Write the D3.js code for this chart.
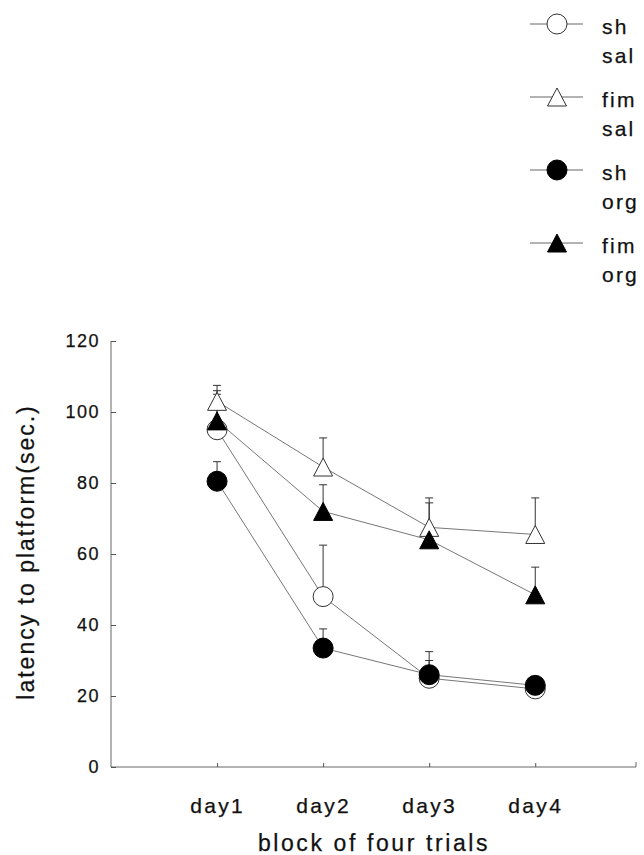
<!DOCTYPE html>
<html>
<head>
<meta charset="utf-8">
<script src="https://cdn.jsdelivr.net/npm/d3@7/dist/d3.min.js"></script>
<style>
  html, body { margin: 0; padding: 0; background: #fff; }
  svg { display: block; }
  text { font-family: "Liberation Sans", Arial, Helvetica, sans-serif; fill: #111; stroke: #111; stroke-width: 0.25; }
</style>
</head>
<body>
<svg id="chart" width="644" height="855"></svg>
<script>
// Escape latency over four training days, by lesion and treatment group
const days = ["day1", "day2", "day3", "day4"];
const dayIndex = [1, 2, 3, 4];

const shSal  = [95, 48, 25, 22];
const fimSal = [103, 84.5, 67.5, 65.5];
const shOrg  = [80.5, 33.5, 26, 23];
const fimOrg = [97.5, 72, 64, 48.5];

// upper error bars (SEM)
const shSalErr  = [10, 14.5, 5, 2];
const fimSalErr = [4.5, 8.2, 8.3, 10.3];
const shOrgErr  = [5.5, 5.4, 6.5, 1.5];
const fimOrgErr = [8.5, 7.5, 10.4, 7.8];

const yTicks = [0, 20, 40, 60, 80, 100, 120];
const groupNames = [["sh", "sal"], ["fim", "sal"], ["sh", "org"], ["fim", "org"]];

const series = [
  { name: groupNames[0], values: shSal,  err: shSalErr,  shape: "circle",   filled: false },
  { name: groupNames[1], values: fimSal, err: fimSalErr, shape: "triangle", filled: false },
  { name: groupNames[2], values: shOrg,  err: shOrgErr,  shape: "circle",   filled: true },
  { name: groupNames[3], values: fimOrg, err: fimOrgErr, shape: "triangle", filled: true }
];

const svg = d3.select("#chart");

const x = d3.scaleLinear().domain([0, 4.95]).range([111, 636]);
const y = d3.scaleLinear().domain([0, 120]).range([767, 341]);

const circleSym = d3.symbol().type(d3.symbolCircle).size(Math.PI * 10 * 10);
// triangle with its mid-height on the data point
function trianglePath(w, h) {
  return `M0,${-h / 2}L${w / 2},${h / 2}L${-w / 2},${h / 2}Z`;
}
function markerPath(shape) {
  return shape === "circle" ? circleSym() : trianglePath(19, 18);
}

// axes
const yAxis = d3.axisLeft(y).tickValues(yTicks).tickSize(-5).tickPadding(11).tickFormat(d3.format("d"));
const gy = svg.append("g").attr("transform", `translate(${x(0)},0)`).call(yAxis);
gy.select(".domain").attr("stroke", "#555").attr("stroke-width", 0.9).attr("d", `M0,${y(120)}V${y(0)}`);
gy.selectAll(".tick line").attr("stroke", "#555");
gy.selectAll(".tick text").attr("font-size", 18).attr("letter-spacing", 1.5).attr("fill", "#111")
  .style("font-family", '"Liberation Sans", Arial, sans-serif');

const xAxis = d3.axisBottom(x).tickValues(dayIndex).tickSize(-4).tickPadding(31)
  .tickFormat((d, i) => days[i]);
const gx = svg.append("g").attr("transform", `translate(0,${y(0)})`).call(xAxis);
gx.select(".domain").attr("stroke", "#555").attr("stroke-width", 0.9)
  .attr("d", `M${x(0)},0H${x(4.95)}V-5`);
gx.selectAll(".tick line").attr("stroke", "#555");
gx.selectAll(".tick text").attr("font-size", 21).attr("letter-spacing", 2.3).attr("fill", "#111")
  .style("font-family", '"Liberation Sans", Arial, sans-serif');

// axis titles
svg.append("text")
  .attr("transform", `translate(34,552) rotate(-90)`)
  .attr("text-anchor", "middle")
  .attr("font-size", 23)
  .attr("letter-spacing", 2)
  .text("latency to platform(sec.)");

svg.append("text")
  .attr("x", 374).attr("y", 851)
  .attr("text-anchor", "middle")
  .attr("font-size", 23)
  .attr("letter-spacing", 2.6)
  .text("block of four trials");

// connecting lines
const line = d3.line().x((d, i) => x(dayIndex[i])).y(d => y(d));
const plot = svg.append("g");
series.forEach(s => {
  plot.append("path")
    .attr("d", line(s.values))
    .attr("fill", "none")
    .attr("stroke", "#777")
    .attr("stroke-width", 1);
});

// error bars (upward only)
series.forEach(s => {
  const g = plot.append("g").attr("stroke", "#333").attr("stroke-width", 1);
  s.values.forEach((v, i) => {
    const cx = x(dayIndex[i]);
    const top = y(v + s.err[i]);
    g.append("line").attr("x1", cx).attr("x2", cx).attr("y1", y(v)).attr("y2", top);
    g.append("line").attr("x1", cx - 4).attr("x2", cx + 4).attr("y1", top).attr("y2", top);
  });
});

// markers
series.forEach(s => {
  plot.append("g").selectAll("path")
    .data(s.values)
    .join("path")
    .attr("transform", (d, i) => `translate(${x(dayIndex[i])},${y(d)})`)
    .attr("d", markerPath(s.shape))
    .attr("fill", s.filled ? "#000" : "#fff")
    .attr("stroke", s.filled ? "#000" : "#333")
    .attr("stroke-width", 1);
});

// legend
const legend = svg.append("g");
series.forEach((s, i) => {
  const my = 24 + i * 73;
  const g = legend.append("g");
  g.append("line").attr("x1", 530).attr("x2", 583).attr("y1", my).attr("y2", my)
    .attr("stroke", "#666").attr("stroke-width", 1);
  g.append("path")
    .attr("transform", `translate(557,${my})`)
    .attr("d", markerPath(s.shape))
    .attr("fill", s.filled ? "#000" : "#fff")
    .attr("stroke", s.filled ? "#000" : "#333")
    .attr("stroke-width", 1);
  g.append("text").attr("x", 602).attr("y", my + 10).attr("font-size", 21).attr("letter-spacing", 2.2).text(s.name[0]);
  g.append("text").attr("x", 602).attr("y", my + 39).attr("font-size", 21).attr("letter-spacing", 2.2).text(s.name[1]);
});
</script>
</body>
</html>
